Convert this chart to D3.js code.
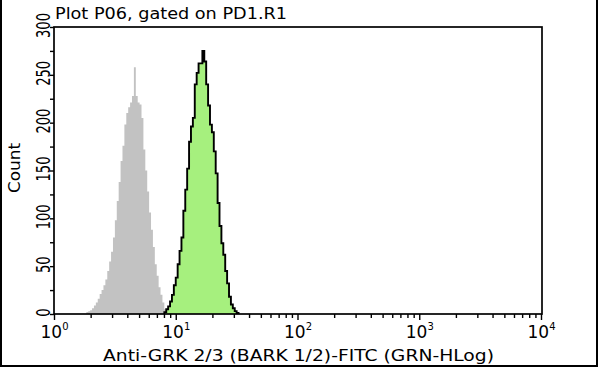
<!DOCTYPE html>
<html><head><meta charset="utf-8">
<script src="https://cdn.jsdelivr.net/npm/d3@7"></script>
<style>html,body{margin:0;padding:0;background:#fff;}svg{display:block;}</style>
</head><body>
<svg id="c" width="600" height="370"></svg>
<script>
// ---- data ----
const title = "Plot P06, gated on PD1.R1";
const xTitle = "Anti-GRK 2/3 (BARK 1/2)-FITC (GRN-HLog)";
const yTitle = "Count";
const nChannels = 256;            // log channels over 4 decades
const decadeExponents = [0, 1, 2, 3, 4];
const yTickLabels = [0, 50, 100, 150, 200, 250, 300];
// control (gray) histogram: first channel index and counts
const grayStart = 17;
const grayCounts = [2,3,4,6,9,12,16,21,25,30,36,45,55,65,80,98,118,138,160,176,198,210,216,221,228,258,228,221,219,205,172,150,128,106,88,70,52,40,28,20,12,5,2];
// stained (green) histogram
const greenStart = 58;
const greenCounts = [2,5,8,13,20,30,38,52,66,80,108,130,152,180,196,205,240,252,262,262,275,264,240,218,198,190,170,147,116,92,74,62,45,32,18,10,6,3,1];

// ---- layout ----
const svg = d3.select("#c");
const L = 54, R = 541, T = 27, B = 314;
const x = d3.scaleLog().domain([1, 1e4]).range([L, R]);
const y = d3.scaleLinear().domain([0, 300]).range([B, T]);
const edge = c => Math.pow(10, c * 4 / nChannels);

function pts(start, counts) {
  const p = [[edge(start), 0]];
  counts.forEach((v, i) => p.push([edge(start + i), v]));
  p.push([edge(start + counts.length), 0]);
  return p;
}
const area = d3.area().x(d => x(d[0])).y0(y(0)).y1(d => y(d[1])).curve(d3.curveStepAfter);
const line = d3.line().x(d => x(d[0])).y(d => y(d[1])).curve(d3.curveStepAfter);

// outer frame
svg.append("path").attr("d", "M1,0 V366 H597 V0").attr("fill", "none").attr("stroke", "#000").attr("stroke-width", 2);

const gp = pts(grayStart, grayCounts);
svg.append("path").attr("d", area(gp)).attr("fill", "#c2c2c2");
const gr = pts(greenStart, greenCounts);
svg.append("path").attr("d", area(gr)).attr("fill", "#a6f07e");
svg.append("path").attr("d", line(gr)).attr("fill", "none").attr("stroke", "#000").attr("stroke-width", 1.9).attr("stroke-linejoin", "miter");

// plot box
svg.append("rect").attr("x", L).attr("y", T).attr("width", R - L + 1).attr("height", B - T)
  .attr("fill", "none").attr("stroke", "#000").attr("stroke-width", 1.7);

// x axis: minor ticks
const minor = [];
for (let d = 0; d < 4; d++) for (let k = 2; k <= 9; k++) minor.push(k * Math.pow(10, d));
const gxm = svg.append("g").attr("transform", `translate(0,${B})`)
  .call(d3.axisBottom(x).tickValues(minor).tickSize(4).tickFormat(""));
const gxM = svg.append("g").attr("transform", `translate(0,${B})`)
  .call(d3.axisBottom(x).tickValues(decadeExponents.map(e => Math.pow(10, e))).tickSize(6).tickPadding(5).tickFormat(""));
[gxm, gxM].forEach(g => { g.select(".domain").remove(); g.selectAll("line").attr("stroke", "#000").attr("stroke-width", 1.4); });
gxM.selectAll(".tick text").each(function(d) {
  const t = d3.select(this).attr("font-family", "DejaVu Sans").attr("font-size", 17).attr("fill", "#000")
    .attr("y", 24).attr("dy", null).attr("text-anchor", "middle");
  t.append("tspan").text("10");
  t.append("tspan").attr("font-size", 10).attr("dy", -8).text(Math.round(Math.log10(d)));
});

// y axis
const yMinor = d3.range(0, 301, 25);
const gy = svg.append("g").attr("transform", `translate(${L},0)`)
  .call(d3.axisLeft(y).tickValues(yMinor).tickSize(4).tickFormat(d => yTickLabels.includes(d) ? d : ""));
gy.select(".domain").remove();
gy.selectAll("line").attr("stroke", "#000").attr("stroke-width", 1.4);
gy.selectAll(".tick text").each(function(d) {
  const s = String(d);
  d3.select(this).attr("font-family", "DejaVu Sans").attr("font-size", 20).attr("fill", "#000")
    .attr("text-anchor", "middle").attr("dy", null)
    .attr("transform", "rotate(-90)").attr("x", 2).attr("y", -4)
    .attr("textLength", s.length * 8.3).attr("lengthAdjust", "spacingAndGlyphs");
});

// titles
svg.append("text").attr("x", 55).attr("y", 19).attr("font-family", "DejaVu Sans").attr("font-size", 16)
  .attr("textLength", 232).attr("lengthAdjust", "spacingAndGlyphs").text(title);
svg.append("text").attr("x", 103).attr("y", 361).attr("font-family", "DejaVu Sans").attr("font-size", 15.5)
  .attr("textLength", 391).attr("lengthAdjust", "spacingAndGlyphs").text(xTitle);
svg.append("text").attr("transform", "translate(20,168) rotate(-90)").attr("text-anchor", "middle")
  .attr("font-family", "DejaVu Sans").attr("font-size", 16)
  .attr("textLength", 50).attr("lengthAdjust", "spacingAndGlyphs").text(yTitle);
</script>
</body></html>
